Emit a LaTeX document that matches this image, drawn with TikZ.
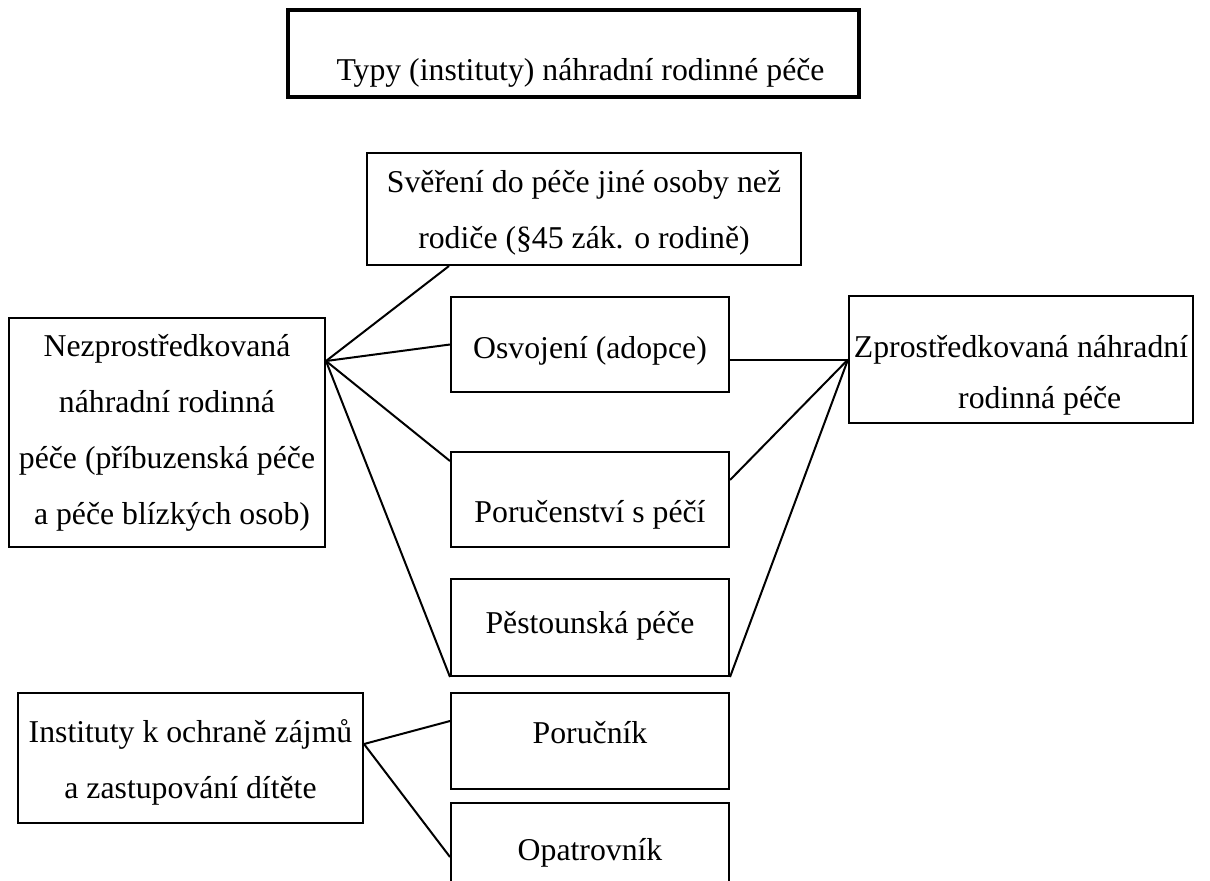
\documentclass[tikz,border=0pt]{standalone}
\usepackage{fontspec}
\setmainfont{Liberation Serif}
\usetikzlibrary{calc}

\begin{document}
\begin{tikzpicture}[x = 0.4pt, y = -0.4pt, line width = 0.8pt,
		font = \fontsize{12.7pt}{22.4pt}\selectfont,
		box/.style = { draw, inner sep = 0pt, align = center, minimum width = 111.2pt, minimum height = 38pt },
		head/.style = { box, line width = 1.4pt }]
		\useasboundingbox (0, 0) rectangle (1210, 880);

		\node [head, minimum width = 228.4pt, minimum height = 34.8pt] (types) at (573.5, 53.5) {\raisebox{-10.6pt}[0pt][0pt]{\hspace*{5.6pt}Typy (instituty) náhradní rodinné péče}};

		\node [box, minimum width = 173.6pt, minimum height = 44.8pt, text height = 34pt] (sve) at (584, 209) {Svěření do péče jiné osoby než\\ rodiče (§45 zák. o rodině)};
		\node [box, minimum width = 126.4pt, minimum height = 91.6pt] (nez) at (167, 432.5) {Nezprostředkovaná\\ náhradní rodinná\hspace*{7pt}\\ péče (příbuzenská péče\\ \hspace*{4pt}a péče blízkých osob)};
		\node [box, minimum width = 137.6pt, minimum height = 50.8pt, text height = 41.6pt, font = \fontsize{12.7pt}{20.4pt}\selectfont] (zpr) at (1021, 359.5) {Zprostředkovaná náhradní\\ \hspace*{15pt}rodinná péče};
		\node [box, minimum width = 138pt, minimum height = 52pt, text height = 34.8pt] (ins) at (190.5, 758) {Instituty k ochraně zájmů\\ a zastupování dítěte};

		\node [box] (osv) at (590, 344.5) {\raisebox{-5.4pt}[0pt][0pt]{Osvojení (adopce)}};
		\node [box] (por) at (590, 499.5) {\raisebox{-9pt}[0pt][0pt]{Poručenství s péčí}};
		\node [box, minimum height = 38.8pt] (pes) at (590, 627.5) {\raisebox{-2.2pt}[0pt][0pt]{Pěstounská péče}};
		\node [box, minimum height = 38.4pt] (poc) at (590, 741) {\raisebox{-0.8pt}[0pt][0pt]{Poručník}};
		\node [box, minimum height = 38.4pt] (opa) at (590, 851) {\raisebox{-3.6pt}[0pt][0pt]{Opatrovník}};

		\coordinate (nezR) at ($(nez.north east) + (0, 44)$);
		\coordinate (insR) at ($(ins.north east) + (0, 52)$);

		\draw (nezR) -- ($(sve.south west) + (83, 0)$);
		\draw (nezR) -- (osv.west);
		\draw (nezR) -- ($(por.north west) + (0, 10)$);
		\draw (nezR) -- (pes.south west);

		\draw (zpr.west) -- (zpr.west -| osv.east);
		\draw (zpr.west) -- ($(por.north east) + (0, 29)$);
		\draw (zpr.west) -- (pes.south east);

		\draw (insR) -- ($(poc.north west) + (0, 29)$);
		\draw (insR) -- ($(opa.north west) + (0, 55)$);
	\end{tikzpicture}
\end{document}
